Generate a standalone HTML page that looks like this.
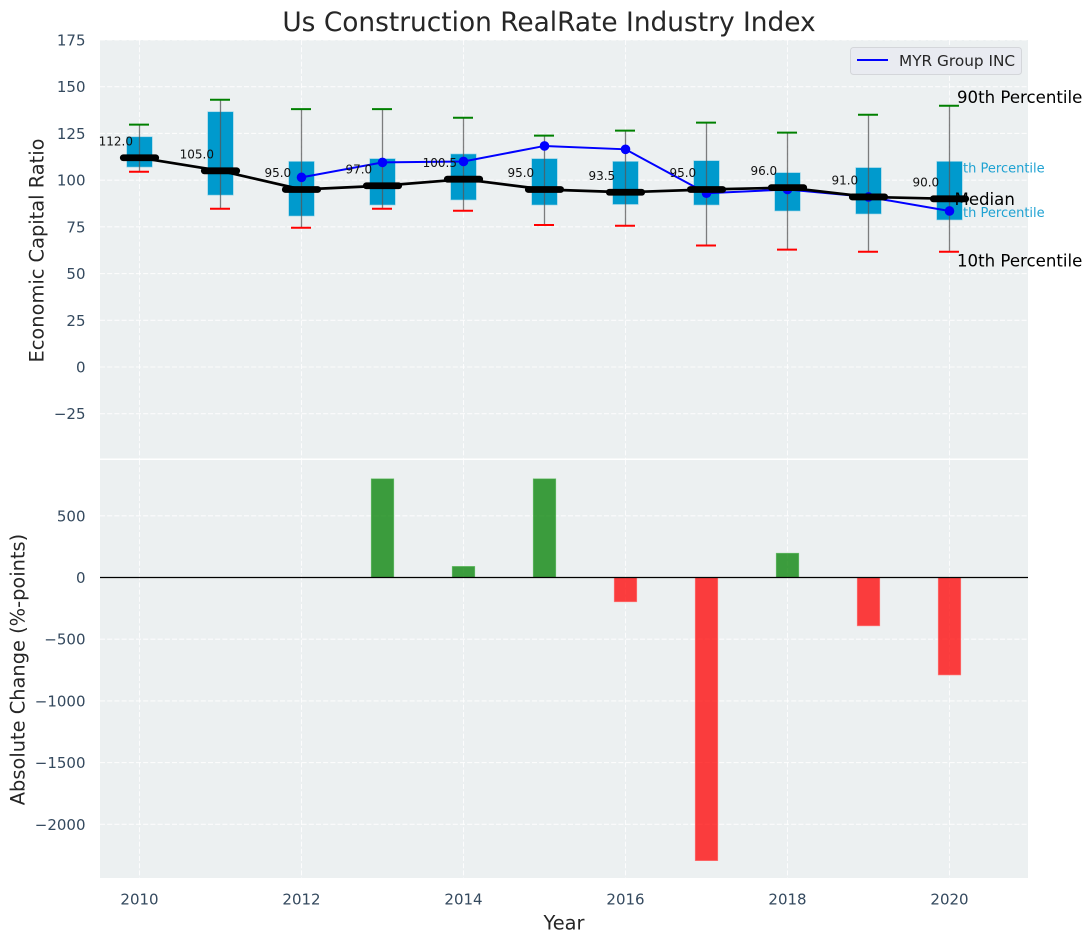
<!DOCTYPE html>
<html lang="en">
<head>
<meta charset="utf-8">
<title>Us Construction RealRate Industry Index</title>
<style>
html,body{margin:0;padding:0;background:#fff;}
svg{display:block;font-family:"DejaVu Sans","Liberation Sans",sans-serif;}
</style>
</head>
<body>
<svg id="chart" xmlns="http://www.w3.org/2000/svg" width="1092" height="942" viewBox="0 0 1092 942">
  <rect x="100" y="40" width="928" height="418.5" fill="#ecf0f1"/>
  <rect x="100" y="460" width="928" height="418" fill="#ecf0f1"/>
  <g id="grid"></g>
  <g id="bars"></g>
  <g id="boxes"></g>
  <g id="lines"></g>
  <g id="labels"></g>
  <text x="549" y="31" text-anchor="middle" font-size="26.4" fill="#262626">Us Construction RealRate Industry Index</text>
  <text transform="translate(43.5,250.5) rotate(-90)" text-anchor="middle" font-size="19.4" fill="#262626">Economic Capital Ratio</text>
  <text transform="translate(24.5,669.5) rotate(-90)" text-anchor="middle" font-size="19.4" fill="#262626">Absolute Change (%-points)</text>
  <text x="564" y="929.5" text-anchor="middle" font-size="19.4" fill="#262626">Year</text>
  <g>
    <rect x="850.5" y="47.5" width="171" height="27" rx="3" fill="#e9ebf1" stroke="#d4d6da" stroke-width="1"/>
    <line x1="857" y1="60" x2="888" y2="60" stroke="#0000ff" stroke-width="2"/>
    <text x="899" y="66" font-size="15.3" fill="#262626">MYR Group INC</text>
  </g>
</svg>
<script>
const years = [2010, 2011, 2012, 2013, 2014, 2015, 2016, 2017, 2018, 2019, 2020];
const p90 = [129.7, 143, 138, 138, 133.4, 123.8, 126.5, 130.8, 125.4, 135, 139.8];
const p75 = [123.2, 136.6, 110, 111.5, 114, 111.5, 110, 110.4, 104, 106.7, 110];
const medians = [112, 105, 95, 97, 100.5, 95, 93.5, 95, 96, 91, 90];
const p25 = [107, 92, 80.8, 86.7, 89.4, 86.7, 87, 86.7, 83.5, 81.9, 78.7];
const p10 = [104.5, 84.7, 74.5, 84.7, 83.6, 76, 75.6, 65, 62.8, 61.7, 61.7];
const companyYears = [2012, 2013, 2014, 2015, 2016, 2017, 2018, 2019, 2020];
const companyValues = [101.5, 109.5, 110, 118.3, 116.5, 93, 95, 91, 83.5];
const changeYears = [2013, 2014, 2015, 2016, 2017, 2018, 2019, 2020];
const changeValues = [800, 90, 800, -197, -2295, 197, -392, -790];
const xTicks = [2010, 2012, 2014, 2016, 2018, 2020];
const topTicks = [175, 150, 125, 100, 75, 50, 25, 0, -25];
const bottomTicks = [500, 0, -500, -1000, -1500, -2000];

const SVG_NS = 'http://www.w3.org/2000/svg';
const xScale = v => 139.5 + (v - 2010) * 81;
const yTop = v => 367 - v * 1.8686;
const yBottom = v => 577.5 - v * 0.1234;

function make(parent, tag, attrs, content) {
  const el = document.createElementNS(SVG_NS, tag);
  for (const k in attrs) el.setAttribute(k, attrs[k]);
  if (content !== undefined) el.textContent = content;
  document.getElementById(parent).appendChild(el);
  return el;
}
const fmtTick = v => (v < 0 ? '\u2212' + Math.abs(v) : String(v));
const gridStyle = {stroke: '#ffffff', 'stroke-width': 1.1, 'stroke-dasharray': '5 2.2', opacity: 0.85};

xTicks.forEach(t => {
  const a = make('grid', 'line', {x1: xScale(t), x2: xScale(t), y1: 40, y2: 458.5, ...gridStyle});
  
  
  const b = make('grid', 'line', {x1: xScale(t), x2: xScale(t), y1: 460, y2: 878, ...gridStyle});
  
  
  const l = make('labels', 'text', {x: xScale(t), y: 904.5, 'text-anchor': 'middle', 'font-size': 15, fill: '#34495e'}, String(t));
  
  
});
topTicks.forEach(t => {
  const g = make('grid', 'line', {x1: 100, x2: 1028, y1: yTop(t), y2: yTop(t), ...gridStyle});
  
  
  const l = make('labels', 'text', {x: 85.5, y: yTop(t) + 5.5, 'text-anchor': 'end', 'font-size': 15, fill: '#34495e'}, fmtTick(t));
  
  
});
bottomTicks.forEach(t => {
  const g = make('grid', 'line', {x1: 100, x2: 1028, y1: yBottom(t), y2: yBottom(t), ...gridStyle});
  
  
  const l = make('labels', 'text', {x: 85.5, y: yBottom(t) + 5.5, 'text-anchor': 'end', 'font-size': 15, fill: '#34495e'}, fmtTick(t));
  
  
});

/* Bars */
changeYears.forEach((yr, i) => {
  const v = changeValues[i];
  const y0 = yBottom(0), y1 = yBottom(v);
  const r = make('bars', 'rect', {
    x: xScale(yr) - 11.3, width: 22.6, y: Math.min(y0, y1), height: Math.abs(y1 - y0),
    fill: v >= 0 ? '#008000' : '#ff0000', 'fill-opacity': 0.75,
    stroke: v >= 0 ? '#6cc06e' : '#ff8080', 'stroke-width': 0.6
  });
  
  
});
const zero = make('bars', 'line', {x1: 100, x2: 1028, y1: yBottom(0), y2: yBottom(0), stroke: '#000', 'stroke-width': 1.3});



/* Percentile annotations sit behind the boxes */
const last = years.length - 1;
const t75 = make('boxes', 'text', {x: xScale(years[last]) - 3, y: yTop(p75[last]) + 10.8, 'font-size': 13, fill: '#1fa2d2'}, '75th Percentile');


const t25 = make('boxes', 'text', {x: xScale(years[last]) - 3, y: yTop(p25[last]) - 2.8, 'font-size': 13, fill: '#1fa2d2'}, '25th Percentile');



/* Boxes */
years.forEach((yr, i) => {
  const cx = xScale(yr);
  const box = make('boxes', 'rect', {
    x: cx - 12.8, width: 25.6, y: yTop(p75[i]), height: yTop(p25[i]) - yTop(p75[i]),
    fill: '#009acd', stroke: '#8fd0e6', 'stroke-width': 0.6
  });
  
  
  const w = make('boxes', 'line', {x1: cx, x2: cx, y1: yTop(p90[i]), y2: yTop(p10[i]), stroke: '#555', 'stroke-opacity': 0.75, 'stroke-width': 1.3});
  
  
  const hi = make('boxes', 'line', {x1: cx - 10.5, x2: cx + 9.5, y1: yTop(p90[i]), y2: yTop(p90[i]), stroke: '#008000', 'stroke-width': 2});
  
  
  const lo = make('boxes', 'line', {x1: cx - 10.5, x2: cx + 9.5, y1: yTop(p10[i]), y2: yTop(p10[i]), stroke: '#ff0000', 'stroke-width': 2});
  
  
});

/* Company line */
const companyPath = make('lines', 'polyline', {
  points: companyYears.map((y, i) => xScale(y) + ',' + yTop(companyValues[i])).join(' '),
  fill: 'none', stroke: '#0000ff', 'stroke-width': 2
});


companyYears.forEach((y, i) => {
  const c = make('lines', 'circle', {cx: xScale(y), cy: yTop(companyValues[i]), r: 4.8, fill: '#0000ff'});
  
  
});

/* Median line */
const medianPath = make('lines', 'polyline', {
  points: years.map((y, i) => xScale(y) + ',' + yTop(medians[i])).join(' '),
  fill: 'none', stroke: '#000', 'stroke-width': 2.7
});


years.forEach((yr, i) => {
  const cx = xScale(yr), cy = yTop(medians[i]);
  const m = make('lines', 'line', {x1: cx - 16.2, x2: cx + 16.2, y1: cy, y2: cy, stroke: '#000', 'stroke-width': 6.8, 'stroke-linecap': 'round'});
  
  
  const t = make('lines', 'text', {x: cx - 23.7, y: cy - 12.4, 'text-anchor': 'middle', 'font-size': 12, fill: '#111'}, medians[i].toFixed(1));
  
  
});

/* Right-hand annotations */
const lastX = xScale(years[last]);
const a90 = make('lines', 'text', {x: lastX + 7.5, y: yTop(p90[last]) - 3, 'font-size': 16.6, fill: '#000'}, '90th Percentile');


const a10 = make('lines', 'text', {x: lastX + 7.5, y: yTop(p10[last]) + 15, 'font-size': 16.6, fill: '#000'}, '10th Percentile');


const aMed = make('lines', 'text', {x: lastX + 5, y: yTop(medians[last]) + 6, 'font-size': 16.6, fill: '#000'}, 'Median');


</script>
</body>
</html>
